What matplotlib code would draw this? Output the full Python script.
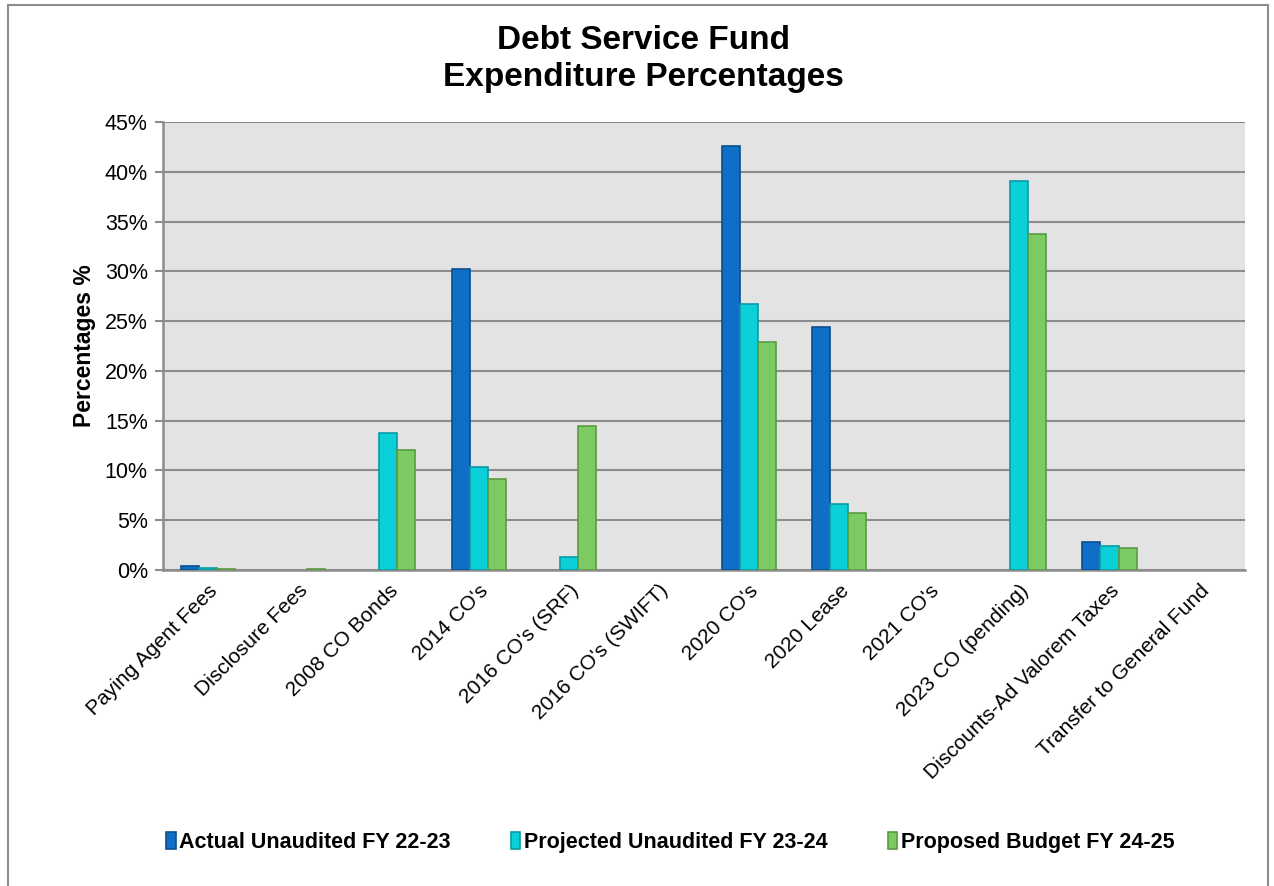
import matplotlib.pyplot as plt
import numpy as np
from matplotlib.patches import Rectangle
from matplotlib.ticker import FuncFormatter, MultipleLocator

plt.rcParams['font.family'] = ['Liberation Sans', 'DejaVu Sans']

# 数据
categories = ['Paying Agent Fees', 'Disclosure Fees', '2008 CO Bonds', "2014 CO's",
              "2016 CO's (SRF)", "2016 CO's (SWIFT)", "2020 CO's", '2020 Lease',
              "2021 CO's", '2023 CO (pending)', 'Discounts-Ad Valorem Taxes',
              'Transfer to General Fund']
actual = [0.4, 0.0, 0.0, 30.2, 0.0, 0.0, 42.6, 24.4, 0.0, 0.0, 2.8, 0.0]
projected = [0.15, 0.0, 13.8, 10.3, 1.3, 0.0, 26.7, 6.6, 0.0, 39.1, 2.4, 0.0]
proposed = [0.1, 0.1, 12.1, 9.1, 14.5, 0.0, 22.9, 5.7, 0.0, 33.7, 2.2, 0.0]
series_names = ['Actual Unaudited FY 22-23', 'Projected Unaudited FY 23-24',
                'Proposed Budget FY 24-25']

colors = ['#0F6FC6', '#0BD0D9', '#7CCA62']
edges = ['#0A4F8F', '#089CA3', '#5A9A45']

fig = plt.figure(figsize=(12.74, 8.86), dpi=100)
ax = fig.add_axes([0.128, 0.3567, 0.849, 0.5056])

# 外边框
fig.patches.append(Rectangle((0.006, -0.01), 0.989, 1.004, transform=fig.transFigure,
                             fill=False, edgecolor='#8C8C8C', linewidth=1.5))

x = np.arange(len(categories))
w = 0.2
for i, (vals, c, ec, name) in enumerate(zip([actual, projected, proposed], colors, edges, series_names)):
    vals = np.array(vals)
    bars = ax.bar(x + (i - 1) * w, vals, w, color=c, edgecolor=ec, linewidth=1.2, label=name, zorder=3)
    # 零值不画边框
    for b, v in zip(bars, vals):
        if v == 0:
            b.set_visible(False)

ax.set_facecolor('#E3E3E3')
ax.set_xlim(-0.5, len(categories) - 0.5)
ax.set_ylim(0, 45)
ax.yaxis.set_major_locator(MultipleLocator(5))
ax.yaxis.set_major_formatter(FuncFormatter(lambda v, p: f'{v:.0f}%'))
ax.grid(axis='y', color='#8C8C8C', linewidth=1.5, zorder=0)
ax.set_axisbelow(True)

for s in ['top', 'right']:
    ax.spines[s].set_visible(False)
for s in ['left', 'bottom']:
    ax.spines[s].set_color('#8C8C8C')
    ax.spines[s].set_linewidth(1.8)

ax.tick_params(axis='y', length=6, width=1.5, color='#8C8C8C', labelsize=15.5, pad=5)
ax.tick_params(axis='x', length=0, labelsize=15, pad=8)
ax.set_xticks(x)
ax.set_xticklabels(categories, rotation=45, ha='right', rotation_mode='anchor')

ax.set_ylabel('Percentages %', fontsize=16.5, fontweight='bold', labelpad=6)
fig.text(0.505, 0.933, 'Debt Service Fund\nExpenditure Percentages', ha='center', va='center',
         fontsize=24, fontweight='bold', linespacing=1.25)

leg = fig.legend(loc='center', bbox_to_anchor=(0.526, 0.049), ncol=3, frameon=False,
                 prop={'size': 15.5, 'weight': 'bold'}, handlelength=0.45, handleheight=0.8,
                 handletextpad=0.15, columnspacing=2.8)

plt.savefig('out.png', dpi=100)
